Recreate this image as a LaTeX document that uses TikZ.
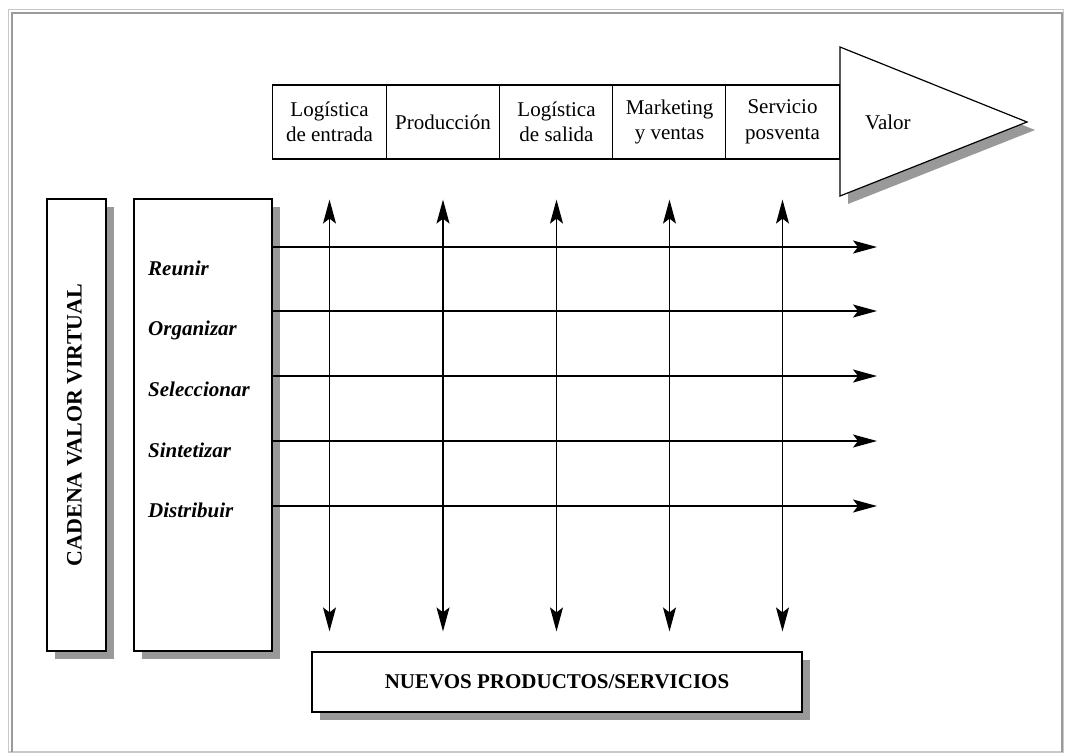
\documentclass[tikz,border=0pt]{standalone}
\usepackage{fontspec}
\setmainfont{Liberation Serif}
\usetikzlibrary{arrows.meta,shadows}
\definecolor{shade}{HTML}{999999}
\definecolor{framelight}{HTML}{C8C8C8}
\definecolor{framedark}{HTML}{9A9A9A}
\begin{document}
\begin{tikzpicture}[x=1pt,y=-1pt,
  txt/.style={font=\fontsize{21}{25.5}\selectfont},
  stagebox/.style={draw, line width=1.2pt, fill=white, rectangle, minimum width=113.5pt,
    minimum height=74pt, inner sep=0pt, align=center, txt},
  sdw/.style={drop shadow={shadow xshift=8pt, shadow yshift=-8pt, fill=shade, opacity=1}},
  panel/.style={draw, line width=1.2pt, fill=white, rectangle, inner sep=0pt, sdw},
  link/.style={line width=1.3pt, -{Stealth[length=24pt,width=13pt,inset=5pt]}},
  twoway/.style={line width=1.3pt, {Stealth[length=24pt,width=13pt,inset=5pt]}-{Stealth[length=24pt,width=13pt,inset=5pt]}},
  act/.style={font=\fontsize{21}{25.5}\selectfont\bfseries\itshape, anchor=base west, inner sep=0pt},
]
\useasboundingbox (0,0) rectangle (1065,753);

% outer bevelled frame
\draw[framelight, line width=1.5pt] (8.5,9.5) rectangle (1063.5,752);
\draw[framedark, line width=2pt] (12,752) -- (12,13) -- (1062,13) -- (1062,752);

% value arrow head
\draw[line width=1.2pt, fill=white, sdw] (840,47) -- (1027,122) -- (840,196) -- cycle;
\node[txt, anchor=west, inner sep=0pt] (valor) at (865,122) {Valor};

% primary activities of the value chain
\node[stagebox] (s1) at (329.5,122) {Logística\\de entrada};
\node[stagebox] (s2) at (443,122) {Producción};
\node[stagebox] (s3) at (556.5,122) {Logística\\de salida};
\node[stagebox] (s4) at (669.5,122) {Marketing\\y ventas};
\node[stagebox] (s5) at (782.5,122) {Servicio\\posventa};

% left panels
\node[panel, minimum width=59pt, minimum height=452pt] (cvv) at (76.5,425) {};
\node[font=\fontsize{22}{26}\selectfont\bfseries, rotate=90] (cvvtext) at ([xshift=-2pt]cvv.center) {CADENA VALOR VIRTUAL};
\node[panel, minimum width=138pt, minimum height=452pt] (steps) at (203,425) {};

\node[act] (a1) at (148,275) {Reunir};
\node[act] (a2) at (148,335) {Organizar};
\node[act] (a3) at (148,396) {Seleccionar};
\node[act] (a4) at (148,457) {Sintetizar};
\node[act] (a5) at (148,517) {Distribuir};

% bottom result box
\node[panel, txt, font=\fontsize{21}{25.5}\selectfont\bfseries, minimum width=490pt, minimum height=60pt] (nuevos) at (557,682) {NUEVOS PRODUCTOS/SERVICIOS};

% horizontal flows
\foreach \i/\y in {1/247,2/311,3/376,4/441,5/506} {
  \coordinate (h\i) at (877,\y);
  \draw[link] (steps.east |- h\i) -- (h\i);
}

% vertical two-way flows
\foreach \i in {1,...,5} {
  \coordinate (u\i) at ([yshift=-40pt]s\i.south);
  \coordinate (d\i) at ([yshift=20pt]s\i.center |- nuevos.north);
  \draw[twoway] (u\i) -- (d\i);
}
\end{tikzpicture}
\end{document}
